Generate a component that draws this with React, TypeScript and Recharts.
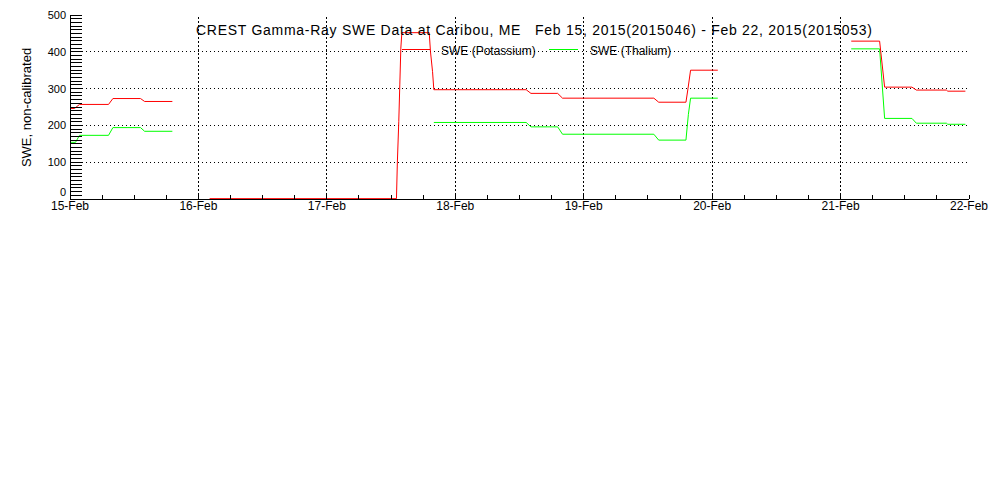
import { LineChart, Line, XAxis, YAxis, ReferenceLine } from 'recharts'

const dayLabels = ['15-Feb', '16-Feb', '17-Feb', '18-Feb', '19-Feb', '20-Feb', '21-Feb', '22-Feb']
const gridDays = [1, 2, 3, 4, 5, 6]
const gridSwe = [100, 200, 300, 400]

// days since 15-Feb 00:00, null = no data (breaks the trace)
const potassiumDays = [
  0.004, 0.035, 0.074, 0.3, 0.334, 0.549, 0.581, 0.797, 0.94,
  1.087, 2.542, 2.549, 2.56, 2.568, 2.576, 2.584, 2.797, 2.807, 2.823, 2.833,
  3.552, 3.589, 3.797, 3.835, 4.546, 4.584, 4.796, 4.812, 4.832, 5.044, 5.5,
  6.083, 6.304, 6.343, 6.556, 6.59, 6.824, 6.835, 6.972,
]
const potassiumSwe = [
  246, 246, 257, 257, 273, 273, 265, 265, null,
  1, 1, 100, 210, 310, 410, 452, 452, 400, 346, 297,
  297, 287, 287, 274, 274, 263, 263, 300, 350, 350, null,
  429, 429, 304, 304, 296, 296, 293, 293,
]
const thaliumDays = [
  0.004, 0.043, 0.074, 0.3, 0.334, 0.549, 0.581, 0.797, 1.5,
  2.833, 3.552, 3.589, 3.797, 3.835, 4.546, 4.584, 4.796, 4.815, 4.832, 5.044, 5.5,
  6.083, 6.304, 6.343, 6.556, 6.59, 6.824, 6.835, 6.972,
]
const thaliumSwe = [
  154, 154, 173, 173, 194, 194, 184, 184, null,
  208, 208, 196, 196, 176, 176, 160, 160, 230, 274, 274, null,
  408, 408, 219, 219, 206, 206, 203, 203,
]

const potassium = potassiumDays.map((d, i) => ({ d, v: potassiumSwe[i] }))
const thalium = thaliumDays.map((d, i) => ({ d, v: thaliumSwe[i] }))

const xTicks = Array.from({ length: 29 }, (_, i) => i / 4)
const yTicks = Array.from({ length: 51 }, (_, i) => i * 10)

const font = '"Liberation Sans", Arial, sans-serif'

const LeftTick = ({ x, y, payload }: any) => (
  <g>
    <line x1={x} y1={y} x2={x + 12} y2={y} stroke="#000" shapeRendering="crispEdges" />
    {payload.value % 100 === 0 && (
      // the 0 label sits just above the axis so it clears the date labels
      <text x={x - 4} y={payload.value === 0 ? y - 3 : y + 4} textAnchor="end" fontSize={11}
        fontFamily={font} fill="#000">
        {payload.value}
      </text>
    )}
  </g>
)

const RightTick = ({ x, y }: any) => (
  <line x1={x - 12} y1={y} x2={x} y2={y} stroke="#000" shapeRendering="crispEdges" />
)

const BottomTick = ({ x, y, payload }: any) => {
  const v = payload.value
  return (
    <g>
      <line x1={x} y1={y} x2={x} y2={y - 4} stroke="#000" shapeRendering="crispEdges" />
      {Number.isInteger(v) && (
        <text x={x} y={y + 10.5} textAnchor="middle" fontSize={12} fontFamily={font} fill="#000">
          {dayLabels[v]}
        </text>
      )}
    </g>
  )
}

const TopTick = ({ x, y }: any) => (
  <line x1={x} y1={y} x2={x} y2={y + 4} stroke="#000" shapeRendering="crispEdges" />
)

const axisLine = { stroke: '#000', shapeRendering: 'crispEdges' }

export default function App() {
  return (
    <div style={{ position: 'absolute', left: 0, top: 0, width: 1000, height: 500, background: '#fff' }}>
      <LineChart width={1000} height={500} margin={{ top: 15, right: 31, bottom: 281, left: 0 }}>
        <XAxis
          xAxisId="b" type="number" dataKey="d" domain={[0, 7]} ticks={xTicks} interval={0}
          height={20} tickSize={0} tickMargin={0} tickLine={false} axisLine={axisLine}
          tick={<BottomTick />} allowDataOverflow
        />
        <XAxis
          xAxisId="t" orientation="top" type="number" dataKey="d" domain={[0, 7]} ticks={xTicks} interval={0}
          height={0} tickSize={0} tickMargin={0} tickLine={false} axisLine={axisLine}
          tick={<TopTick />} allowDataOverflow
        />
        <YAxis
          yAxisId="l" type="number" domain={[0, 500]} ticks={yTicks} interval={0}
          width={70} tickSize={0} tickMargin={0} tickLine={false} axisLine={axisLine}
          tick={<LeftTick />} allowDataOverflow
        />
        <YAxis
          yAxisId="r" orientation="right" type="number" domain={[0, 500]} ticks={yTicks} interval={0}
          width={0} tickSize={0} tickMargin={0} tickLine={false} axisLine={axisLine}
          tick={<RightTick />} allowDataOverflow
        />
        {gridSwe.map((v) => (
          <ReferenceLine key={'h' + v} xAxisId="b" yAxisId="l" y={v} stroke="#000"
            strokeDasharray="1 3" shapeRendering="crispEdges" />
        ))}
        {gridDays.map((v) => (
          <ReferenceLine key={'v' + v} xAxisId="b" yAxisId="l" x={v} stroke="#000"
            strokeDasharray="2 2" shapeRendering="crispEdges" />
        ))}
        <Line xAxisId="b" yAxisId="l" data={thalium} dataKey="v" type="linear" stroke="#00ff00"
          strokeWidth={1} dot={false} connectNulls={false} isAnimationActive={false} />
        <Line xAxisId="b" yAxisId="l" data={potassium} dataKey="v" type="linear" stroke="#ff0000"
          strokeWidth={1} dot={false} connectNulls={false} isAnimationActive={false} />
      </LineChart>
      <svg width={1000} height={500} style={{ position: 'absolute', left: 0, top: 0, pointerEvents: 'none' }}>
        <text x={196} y={35} fontSize={14} fontFamily={font} fill="#000" textLength={676}
          lengthAdjust="spacing" style={{ whiteSpace: 'pre' }}>
          {'CREST Gamma-Ray SWE Data at Caribou, ME   Feb 15, 2015(2015046) - Feb 22, 2015(2015053)'}
        </text>
        <line x1={402} y1={49.5} x2={430} y2={49.5} stroke="#ff0000" />
        <text x={441} y={55} fontSize={12} fontFamily={font} fill="#000">SWE (Potassium)</text>
        <line x1={549} y1={49.5} x2={578} y2={49.5} stroke="#00ff00" />
        <text x={590} y={55} fontSize={12} fontFamily={font} fill="#000">SWE (Thalium)</text>
        <text x={31} y={107.5} fontSize={13} fontFamily={font} fill="#000" textAnchor="middle"
          transform="rotate(-90 31 107.5)">
          SWE, non-calibrated
        </text>
      </svg>
    </div>
  )
}
